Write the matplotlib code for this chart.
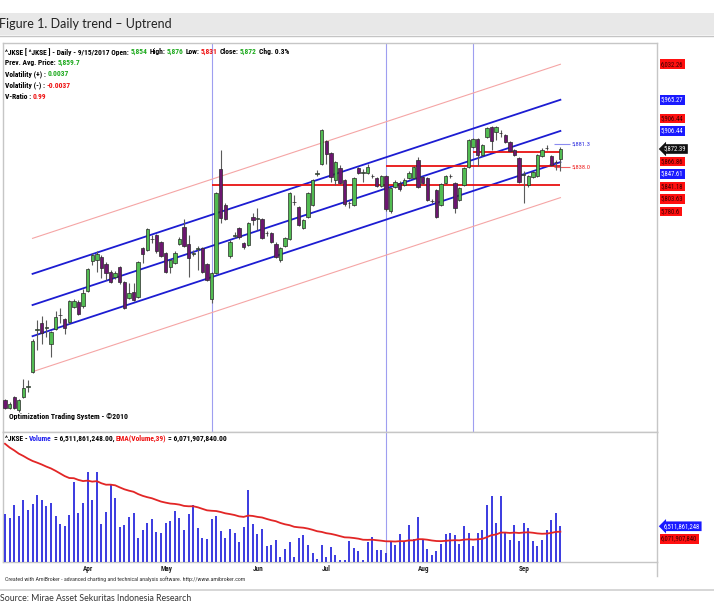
import matplotlib
matplotlib.use('Agg')
import matplotlib.pyplot as plt
from matplotlib import font_manager as fm
from matplotlib.patches import Rectangle
from matplotlib.lines import Line2D

W, H = 714, 615

# ---- data (JKSE daily, 8 Mar - 15 Sep 2017) ----
months = ['Apr', 'May', 'Jun', 'Jul', 'Aug', 'Sep']
month_start = [17, 34, 54, 69, 90, 112]

opens = [5398, 5383, 5405, 5379, 5405, 5424, 5451, 5531, 5545, 5535,
         5504, 5532, 5559, 5552, 5546, 5575, 5583, 5576, 5605, 5662,
         5663, 5669, 5655, 5641, 5630, 5650, 5621, 5591, 5603, 5594,
         5686, 5682, 5702, 5710, 5697, 5676, 5650, 5658, 5693, 5725,
         5693, 5675, 5684, 5685, 5655, 5590, 5638, 5834, 5767, 5671,
         5709, 5723, 5695, 5691, 5745, 5741, 5740, 5713, 5714, 5694,
         5663, 5689, 5702, 5772, 5763, 5724, 5745, 5767, 5826, 5845,
         5887, 5864, 5814, 5836, 5814, 5770, 5767, 5836, 5828, 5828,
         5821, 5817, 5803, 5821, 5756, 5801, 5808, 5804, 5817, 5817,
         5852, 5820, 5817, 5774, 5795, 5767, 5809, 5821, 5808, 5776,
         5804, 5839, 5877, 5891, 5861, 5895, 5913, 5904, 5902, 5898,
         5886, 5870, 5855, 5824, 5804, 5820, 5821, 5860, 5874, 5859,
         5847, 5854]
highs = [5400, 5395, 5407, 5400, 5438, 5436, 5513, 5550, 5557, 5550,
         5529, 5567, 5573, 5554, 5588, 5590, 5588, 5608, 5648, 5676,
         5680, 5672, 5659, 5645, 5642, 5652, 5623, 5620, 5620, 5661,
         5688, 5723, 5710, 5712, 5699, 5678, 5665, 5679, 5707, 5740,
         5710, 5682, 5690, 5688, 5657, 5641, 5792, 5871, 5770, 5700,
         5716, 5726, 5697, 5735, 5752, 5761, 5742, 5718, 5716, 5696,
         5687, 5706, 5791, 5786, 5765, 5740, 5791, 5816, 5832, 5910,
         5889, 5866, 5850, 5842, 5816, 5775, 5819, 5838, 5834, 5844,
         5826, 5819, 5823, 5823, 5800, 5814, 5812, 5817, 5831, 5841,
         5858, 5822, 5819, 5778, 5797, 5808, 5823, 5826, 5810, 5800,
         5838, 5891, 5894, 5893, 5881, 5914, 5915, 5915, 5908, 5900,
         5888, 5872, 5857, 5830, 5823, 5831, 5863, 5874, 5880, 5861,
         5852, 5876]
lows = [5381, 5381, 5381, 5377, 5403, 5414, 5449, 5493, 5504, 5518,
        5480, 5530, 5545, 5523, 5543, 5572, 5559, 5573, 5603, 5653,
        5641, 5629, 5625, 5619, 5627, 5618, 5571, 5589, 5585, 5592,
        5657, 5680, 5695, 5677, 5668, 5639, 5639, 5656, 5691, 5687,
        5631, 5670, 5644, 5639, 5623, 5581, 5636, 5732, 5738, 5667,
        5704, 5702, 5683, 5689, 5729, 5719, 5702, 5708, 5695, 5667,
        5660, 5687, 5700, 5767, 5727, 5722, 5743, 5765, 5822, 5843,
        5845, 5810, 5805, 5806, 5765, 5762, 5765, 5825, 5810, 5826,
        5817, 5800, 5801, 5755, 5752, 5799, 5794, 5802, 5815, 5815,
        5799, 5806, 5774, 5770, 5743, 5765, 5807, 5817, 5752, 5774,
        5802, 5837, 5875, 5840, 5859, 5893, 5870, 5890, 5895, 5884,
        5867, 5859, 5809, 5771, 5800, 5818, 5819, 5858, 5870, 5841,
        5832, 5831]
closes = [5383, 5392, 5383, 5399, 5422, 5425, 5511, 5533, 5526, 5536,
          5527, 5556, 5560, 5535, 5586, 5586, 5561, 5601, 5646, 5672,
          5674, 5647, 5638, 5622, 5639, 5622, 5572, 5600, 5587, 5659,
          5674, 5721, 5703, 5679, 5670, 5641, 5663, 5677, 5703, 5689,
          5666, 5677, 5686, 5641, 5625, 5639, 5790, 5743, 5740, 5697,
          5710, 5706, 5687, 5733, 5738, 5742, 5704, 5714, 5697, 5669,
          5685, 5704, 5789, 5773, 5729, 5738, 5789, 5814, 5828, 5908,
          5863, 5820, 5848, 5808, 5769, 5771, 5817, 5827, 5829, 5839,
          5822, 5803, 5821, 5759, 5798, 5811, 5796, 5814, 5828, 5839,
          5801, 5808, 5776, 5775, 5745, 5806, 5821, 5822, 5761, 5798,
          5836, 5889, 5891, 5861, 5879, 5912, 5888, 5913, 5903, 5886,
          5869, 5861, 5811, 5826, 5821, 5829, 5861, 5871, 5875, 5843,
          5848, 5872.39]

# volume in billions of shares
volume = [7.43, 7.12, 8.13, 7.30, 8.51, 7.79, 8.20, 8.92, 8.56, 8.05,
          8.33, 7.30, 6.71, 6.51, 7.40, 9.92, 7.56, 8.30, 10.69, 8.51,
          10.69, 6.71, 7.61, 9.79, 8.69, 6.46, 6.59, 7.23, 7.56, 5.63,
          6.25, 6.79, 7.09, 6.07, 6.02, 6.79, 6.92, 7.69, 7.17, 6.20,
          7.48, 8.13, 6.40, 5.63, 5.55, 7.05, 7.30, 6.15, 5.63, 6.32,
          6.02, 5.30, 6.46, 9.28, 6.71, 5.89, 6.32, 4.99, 5.09, 5.43,
          4.15, 4.74, 5.28, 4.15, 5.63, 5.82, 5.09, 4.48, 4.01, 5.05,
          4.15, 4.92, 4.32, 3.94, 3.94, 5.38, 4.86, 4.58, 3.94, 5.30,
          5.69, 4.66, 4.71, 4.48, 5.30, 5.05, 5.94, 5.30, 6.59, 5.51,
          7.23, 5.43, 4.76, 4.28, 4.58, 5.17, 5.89, 5.99, 5.82, 5.17,
          6.51, 6.02, 4.97, 6.02, 6.20, 8.13, 8.82, 6.76, 8.87, 6.02,
          5.43, 6.59, 5.35, 6.76, 6.38, 5.35, 4.97, 5.43, 6.20, 6.97,
          7.53, 6.51]
ema_prev = 13.15          # EMA(Volume,39) just before the first bar
ema_len = 39

# regression channel: start / end values, drawn from bar 6 to the last bar
chan_x = [6, 121]
blue_lines = [[5636.8, 5965.27], [5578.0, 5906.44], [5519.2, 5847.61]]
red_lines = [[5703.8, 6032.26], [5452.2, 5780.60]]

# horizontal support / resistance lines and where they start
h_levels = [5803.63, 5841.18, 5866.86]
h_starts = [45, 83, 102]
tag_levels = [5881.3, 5838.0]
tag_colors = ['#8c8cf0', '#f06060']
tag_text_colors = ['#3030e0', '#ee2020']

# price tags on the right axis
price_tags = [6032.26, 5965.27, 5906.44, 5906.44, 5872.39,
              5866.86, 5847.61, 5841.18, 5803.63, 5780.6]
price_tag_kind = ['red', 'blue', 'red', 'blue', 'last',
                  'red', 'blue', 'red', 'red', 'red']

vol_tags = [6511861248, 6071907840]

# ---- fonts: a narrow face with a real bold ----
installed = {f.name for f in fm.fontManager.ttflist}
NARROW = next((name for name in ['Liberation Sans Narrow', 'Arial Narrow', 'Roboto Condensed',
                                 'Barlow Condensed', 'Barlow Semi Condensed', 'Asap Condensed']
               if name in installed), 'Liberation Sans')
NF = {'family': NARROW}
TITLE_FONT = 'Lato'

GREEN_TXT = '#1faa1f'
RED_TXT = '#ee1111'
BLUE_TXT = '#2222ee'

fig = plt.figure(figsize=(W / 100, H / 100), dpi=100)
fig.patch.set_facecolor('white')
renderer = fig.canvas.get_renderer()


def fx(px):
    return px / W


def fy(py):
    return 1 - py / H


def text_w(s, size, weight='bold'):
    t = fig.text(0, 0, s, fontsize=size, fontweight=weight, **NF)
    w = t.get_window_extent(renderer).width
    t.remove()
    return w


# scale the narrow font so the first header line is as wide as in the chart
line1 = ("^JKSE [ ^JKSE ] - Daily - 9/15/2017 Open: 5,854 High: 5,876 "
         "Low: 5,831 Close: 5,872 Chg. 0.3%")
K = 288 / text_w(line1, 10)

# title bar
fig.patches.append(Rectangle((0, fy(35)), 1, 22 / H, transform=fig.transFigure,
                             facecolor='#e8e8e8', edgecolor='none', zorder=0))
fig.lines.append(Line2D([0, 1], [fy(35.5), fy(35.5)], transform=fig.transFigure,
                        color='#c4c4c4', lw=1))
fig.text(fx(-1), fy(24), 'Figure 1. Daily trend \u2013 Uptrend', fontsize=9.0,
         family=TITLE_FONT, color='#222222', va='center', ha='left')

ax = fig.add_axes([fx(3), fy(432), (657 - 3) / W, (432 - 43) / H])
axv = fig.add_axes([fx(3), fy(562), (657 - 3) / W, (562 - 432) / H], sharex=ax)

for a in (ax, axv):
    for s in a.spines.values():
        s.set_color('#c6c6c6')
        s.set_linewidth(1)
    a.set_yticks([])
    a.tick_params(axis='x', length=0)
ax.tick_params(axis='x', labelbottom=False)

n = len(closes)
xs = list(range(n))
ax.set_xlim(-0.44, 142.05)
ax.set_ylim(5338.4, 6072.4)

# candles
up_col, dn_col = '#52bc52', '#6c1670'
ax.vlines(xs, lows, highs, color='#5a5a5a', lw=0.8, zorder=3)
bottoms = [min(o, c) for o, c in zip(opens, closes)]
heights = [max(abs(c - o), 0.6) for o, c in zip(opens, closes)]
cols = [up_col if c >= o else dn_col for o, c in zip(opens, closes)]
ax.bar(xs, heights, bottom=bottoms, width=0.74, color=cols,
       edgecolor='#2a2a2a', linewidth=0.5, zorder=4)

# channel
for yv in red_lines:
    ax.plot(chan_x, yv, color='#f5a5a5', lw=0.8, zorder=2)
for yv in blue_lines:
    ax.plot(chan_x, yv, color='#1c1cd2', lw=1.3, zorder=2)

# vertical markers and horizontal levels
for lvl, x0 in zip(h_levels, h_starts):
    ax.axvline(x0, color='#9e9ef0', lw=0.8, zorder=1)
    ax.hlines(lvl, x0, n - 1, color='#e81212', lw=1.3, zorder=2)
axv.axvline(h_starts[1], color='#9e9ef0', lw=0.8, zorder=1)

for lvl, lc, tc in zip(tag_levels, tag_colors, tag_text_colors):
    ax.hlines(lvl, n - 2.5, n + 1.0, color=lc, lw=0.8, zorder=2)
    ax.text(n + 1.4, lvl, f'{lvl:,.1f}', color=tc, fontsize=8.6 * K,
            va='center', ha='left', **NF)

# volume
axv.set_ylim(3.76, 13.77)
axv.vlines(xs, 3.76, volume, color='#3a3ae0', lw=1.4, zorder=3)
ema = []
e = ema_prev
for v in volume:
    e = e + (v - e) * 2 / (ema_len + 1)
    ema.append(e)
axv.plot(xs, ema, color='#e22626', lw=1.3, zorder=4)

axv.set_xticks(month_start)
axv.set_xticklabels(months, fontsize=9.4 * K, fontweight='bold', ha='left', **NF)
axv.tick_params(axis='x', pad=2.5, colors='#222222')


# ---- header texts ----
def rich_line(x, y, parts, size, weight='bold'):
    gap = text_w('x x', size, weight) - text_w('xx', size, weight)
    xpos = x
    for s, c in parts:
        t = fig.text(fx(xpos), fy(y), s, color=c, fontsize=size,
                     fontweight=weight, va='center', ha='left', **NF)
        xpos += t.get_window_extent(renderer).width + gap


HS = 10 * K
rich_line(5, 51.7, [("^JKSE [ ^JKSE ] - Daily - 9/15/2017 Open:", 'k'),
                    (f"{opens[-1]:,}", GREEN_TXT), ("High:", 'k'),
                    (f"{highs[-1]:,}", GREEN_TXT), ("Low:", 'k'),
                    (f"{lows[-1]:,}", RED_TXT), ("Close:", 'k'),
                    (f"{closes[-1]:,.0f}", GREEN_TXT), ("Chg. 0.3%", 'k')], HS)
rich_line(5, 62.9, [("Prev. Avg. Price:", 'k'), ("5,859.7", GREEN_TXT)], HS)
rich_line(5, 74.0, [("Volatility (+) :", 'k'), ("0.0037", GREEN_TXT)], HS)
rich_line(5, 85.2, [("Volatility (-) :", 'k'), ("-0.0037", RED_TXT)], HS)
rich_line(5, 96.8, [("V-Ratio :", 'k'), ("0.99", RED_TXT)], HS)
rich_line(9, 417, [("Optimization Trading System - \u00a92010", 'k')], 10.2 * K)
rich_line(5, 438.5, [("^JKSE -", 'k'), ("Volume", BLUE_TXT),
                     (f"= {vol_tags[0]:,}.00,", 'k'), ("EMA(Volume,39)", RED_TXT),
                     (f"= {vol_tags[1]:,}.00", 'k')], HS)
rich_line(5, 579, [("Created with AmiBroker - advanced charting and technical analysis "
                    "software. http://www.amibroker.com", '#333333')], 7.8 * K, 'normal')

fig.lines.append(Line2D([fx(657), fx(657)], [fy(562), fy(576)], transform=fig.transFigure,
                        color='#c6c6c6', lw=1))
fig.lines.append(Line2D([0, 1], [fy(590), fy(590)], transform=fig.transFigure,
                        color='#d0d0d0', lw=1.2))
fig.text(fx(0), fy(598.5), 'Source: Mirae Asset Sekuritas Indonesia Research',
         fontsize=6.3, family=TITLE_FONT, color='#333333', va='center', ha='left')


# ---- right hand value tags, stacked so they do not overlap ----
def stacked(axis, values, anchor, gap=12.5):
    ys = [axis.transData.transform((0, v))[1] for v in values]
    for k in range(anchor - 1, -1, -1):
        ys[k] = max(ys[k], ys[k + 1] + gap)
    for k in range(anchor + 1, len(ys)):
        ys[k] = min(ys[k], ys[k - 1] - gap)
    return [y / fig.bbox.height for y in ys]


def tag_text(v):
    s = f'{v:,.2f}'
    return s[:-1] if s.endswith('0') else s


TS = 8.8 * K
tag_style = {'red': ('#ff1010', '#3a0000'), 'blue': ('#1a1aff', 'white'),
             'last': ('#111111', 'white')}
ys = stacked(ax, price_tags, price_tag_kind.index('last'))
for v, kind, yy in zip(price_tags, price_tag_kind, ys):
    fc, tc = tag_style[kind]
    box = 'larrow,pad=0.2' if kind == 'last' else 'square,pad=0.2'
    fig.text(fx(664 if kind == 'last' else 661), yy, tag_text(v), color=tc,
             fontsize=TS, va='center', ha='left',
             bbox=dict(boxstyle=box, fc=fc, ec='none'), **NF)

ys = stacked(axv, [v / 1e9 for v in vol_tags], 0)
for v, yy, kind in zip(vol_tags, ys, ['blue', 'red']):
    fc, tc = tag_style[kind]
    box = 'larrow,pad=0.2' if kind == 'blue' else 'square,pad=0.2'
    fig.text(fx(664 if kind == 'blue' else 661), yy, f'{v:,}', color=tc,
             fontsize=TS, va='center', ha='left',
             bbox=dict(boxstyle=box, fc=fc, ec='none'), **NF)

fig.savefig('out.png', dpi=100)
